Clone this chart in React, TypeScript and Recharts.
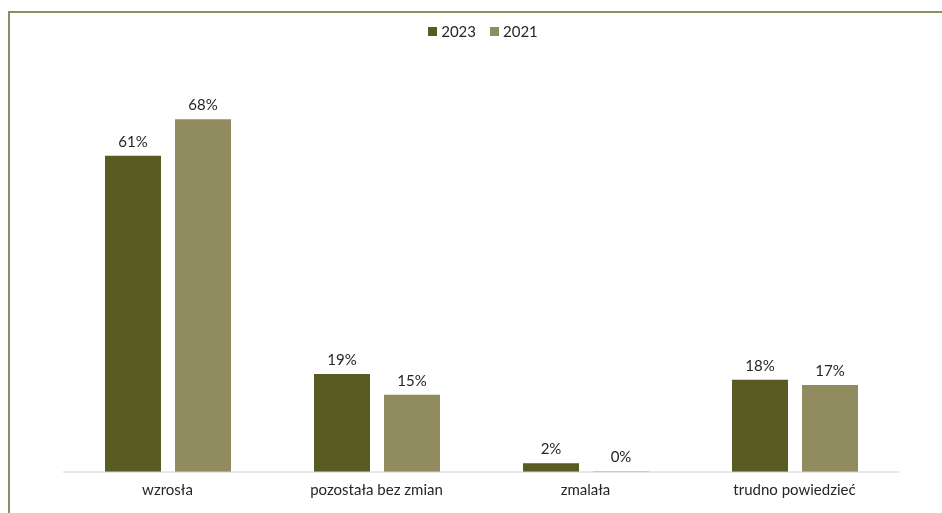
import { BarChart, Bar, XAxis, YAxis, LabelList } from "recharts";

const categories = ["wzrosła", "pozostała bez zmian", "zmalała", "trudno powiedzieć"];
const values2023 = [61, 18.9, 1.7, 17.8];
const values2021 = [68, 14.9, 0.1, 16.8];

const data = categories.map((name, i) => ({
  name,
  y2023: values2023[i],
  y2021: values2021[i],
}));

const DARK = "#5a5b23";
const LIGHT = "#918c60";
const FONT = "Lato, 'Open Sans', sans-serif";
const FS = 15;

function TopLegend() {
  const items = [
    { label: "2023", color: DARK },
    { label: "2021", color: LIGHT },
  ];
  return (
    <div
      style={{
        display: "flex",
        justifyContent: "center",
        gap: 14,
        fontFamily: FONT,
        fontSize: FS,
        color: "#262626",
      }}
    >
      {items.map((it) => (
        <span key={it.label} style={{ display: "flex", alignItems: "center" }}>
          <span
            style={{
              width: 9,
              height: 9,
              background: it.color,
              display: "inline-block",
              marginRight: 4,
            }}
          />
          {it.label}
        </span>
      ))}
    </div>
  );
}

export default function App() {
  return (
    <div>
      <div
        style={{
          position: "fixed",
          left: 8,
          top: 11,
          width: 934,
          height: 502,
          overflow: "hidden",
        }}
      >
        <div
          style={{
            width: 960,
            height: 530,
            border: "2px solid #8e8e64",
            boxSizing: "border-box",
          }}
        />
      </div>
      <div style={{ position: "fixed", left: 0, top: 0, width: 942, height: 513 }}>
        <div style={{ position: "absolute", left: 12, top: 22, width: 942 }}>
          <TopLegend />
        </div>
        <BarChart
          width={942}
          height={513}
          data={data}
          margin={{ top: 109, right: 43, bottom: 11, left: 63 }}
          barSize={56}
          barGap={14}
        >
          <XAxis
            dataKey="name"
            axisLine={{ stroke: "#d0d0d0" }}
            tickLine={false}
            tick={{ fill: "#262626", fontSize: FS, fontFamily: FONT }}
            tickMargin={6}
          />
          <YAxis hide domain={[0, 70]} />
          <Bar dataKey="y2023" fill={DARK} isAnimationActive={false}>
            <LabelList
              dataKey="y2023"
              position="top"
              offset={9}
              formatter={(v: number) => `${Math.round(v)}%`}
              style={{ fill: "#262626", fontSize: FS, fontFamily: FONT }}
            />
          </Bar>
          <Bar dataKey="y2021" fill={LIGHT} isAnimationActive={false}>
            <LabelList
              dataKey="y2021"
              position="top"
              offset={9}
              formatter={(v: number) => `${Math.round(v)}%`}
              style={{ fill: "#262626", fontSize: FS, fontFamily: FONT }}
            />
          </Bar>
        </BarChart>
      </div>
    </div>
  );
}
